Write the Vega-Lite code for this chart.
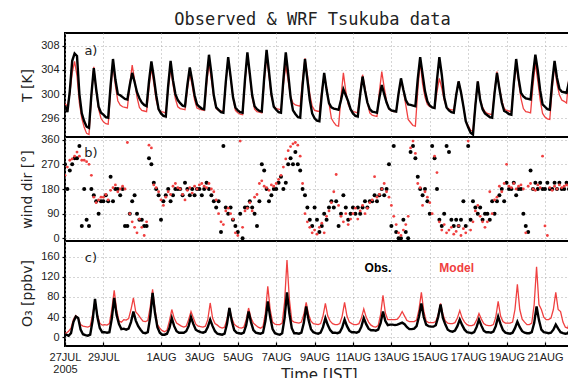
{
"$schema": "https://vega.github.io/schema/vega-lite/v6.json",
"background": "white",
"padding": {"left": 18, "top": 11, "right": 0, "bottom": 0},
"bounds": "flush",
"spacing": 0,
"title": {"text": "Observed & WRF Tsukuba data", "font": "DejaVu Sans Mono", "fontSize": 17, "fontWeight": "normal", "color": "#222", "anchor": "middle", "offset": 3, "dx": 16},
"config": {
  "view": {"stroke": "black", "strokeWidth": 2},
  "axis": {"labelFont": "Liberation Sans", "labelFontSize": 11, "labelColor": "#222", "titleFont": "DejaVu Sans", "titleFontWeight": "normal", "titleFontSize": 14, "titleColor": "#222", "gridColor": "#aaa", "gridDash": [1, 3], "gridWidth": 1, "domain": false, "ticks": true, "tickColor": "black", "tickWidth": 1.2, "tickSize": 3, "labelPadding": 3, "labelOverlap": false, "labelFlush": false}
},
"datasets": {
"T": [
{"d":0,"o":298.1,"m":298.4},{"d":0.125,"o":297.0,"m":298.0},{"d":0.25,"o":300.5,"m":300.0},{"d":0.375,"o":305.5,"m":303.5},{"d":0.5,"o":306.7,"m":305.4},{"d":0.625,"o":306.3,"m":303.0},{"d":0.75,"o":300.0,"m":298.5},{"d":0.875,"o":296.8,"m":296.0},
{"d":1,"o":295.5,"m":294.5},{"d":1.125,"o":294.6,"m":293.5},{"d":1.25,"o":294.4,"m":293.3},{"d":1.375,"o":299.9,"m":299.5},{"d":1.5,"o":304.3,"m":304.5},{"d":1.625,"o":300.8,"m":300.5},{"d":1.75,"o":297.9,"m":297.5},{"d":1.875,"o":296.9,"m":296.0},
{"d":2,"o":296.6,"m":295.4},{"d":2.125,"o":296.2,"m":295.1},{"d":2.25,"o":296.1,"m":295.0},{"d":2.375,"o":301.4,"m":300.4},{"d":2.5,"o":305.8,"m":304.9},{"d":2.625,"o":302.4,"m":301.4},{"d":2.75,"o":300.0,"m":298.9},{"d":2.875,"o":299.8,"m":298.2},
{"d":3,"o":299.5,"m":297.9},{"d":3.125,"o":299.2,"m":297.8},{"d":3.25,"o":299.1,"m":297.7},{"d":3.375,"o":301.5,"m":301.6},{"d":3.5,"o":303.5,"m":304.8},{"d":3.625,"o":302.0,"m":302.3},{"d":3.75,"o":300.3,"m":299.5},{"d":3.875,"o":299.3,"m":297.8},
{"d":4,"o":298.6,"m":297.3},{"d":4.125,"o":298.2,"m":297.2},{"d":4.25,"o":298.0,"m":297.1},{"d":4.375,"o":302.1,"m":301.1},{"d":4.5,"o":305.4,"m":304.3},{"d":4.625,"o":302.8,"m":301.8},{"d":4.75,"o":299.8,"m":299.0},{"d":4.875,"o":297.5,"m":297.4},
{"d":5,"o":296.8,"m":297.1},{"d":5.125,"o":296.4,"m":297.0},{"d":5.25,"o":296.3,"m":296.9},{"d":5.375,"o":301.4,"m":300.9},{"d":5.5,"o":305.5,"m":304.2},{"d":5.625,"o":302.3,"m":301.6},{"d":5.75,"o":300.0,"m":299.2},{"d":5.875,"o":299.0,"m":297.9},
{"d":6,"o":298.5,"m":297.6},{"d":6.125,"o":298.1,"m":297.5},{"d":6.25,"o":298.0,"m":297.4},{"d":6.375,"o":301.5,"m":300.8},{"d":6.5,"o":304.4,"m":303.5},{"d":6.625,"o":302.2,"m":301.4},{"d":6.75,"o":299.8,"m":299.0},{"d":6.875,"o":298.3,"m":297.7},
{"d":7,"o":297.9,"m":297.5},{"d":7.125,"o":297.6,"m":297.4},{"d":7.25,"o":297.5,"m":297.3},{"d":7.375,"o":302.5,"m":301.6},{"d":7.5,"o":306.5,"m":305.1},{"d":7.625,"o":303.4,"m":302.4},{"d":7.75,"o":299.8,"m":299.5},{"d":7.875,"o":297.8,"m":297.6},
{"d":8,"o":297.4,"m":297.3},{"d":8.125,"o":297.0,"m":297.2},{"d":8.25,"o":296.9,"m":297.1},{"d":8.375,"o":302.0,"m":301.9},{"d":8.5,"o":306.1,"m":305.9},{"d":8.625,"o":302.9,"m":302.8},{"d":8.75,"o":299.5,"m":299.5},{"d":8.875,"o":297.8,"m":297.3},
{"d":9,"o":297.3,"m":296.9},{"d":9.125,"o":297.0,"m":296.7},{"d":9.25,"o":296.9,"m":296.6},{"d":9.375,"o":302.4,"m":302.0},{"d":9.5,"o":306.9,"m":306.5},{"d":9.625,"o":303.4,"m":303.0},{"d":9.75,"o":299.8,"m":299.5},{"d":9.875,"o":298.0,"m":297.5},
{"d":10,"o":297.5,"m":297.1},{"d":10.125,"o":297.2,"m":297.0},{"d":10.25,"o":297.1,"m":296.9},{"d":10.375,"o":302.7,"m":302.0},{"d":10.5,"o":307.3,"m":306.2},{"d":10.625,"o":303.7,"m":303.0},{"d":10.75,"o":300.0,"m":299.6},{"d":10.875,"o":297.9,"m":298.0},
{"d":11,"o":297.4,"m":297.6},{"d":11.125,"o":297.0,"m":297.5},{"d":11.25,"o":296.9,"m":297.4},{"d":11.375,"o":302.4,"m":301.5},{"d":11.5,"o":306.9,"m":304.8},{"d":11.625,"o":303.4,"m":302.2},{"d":11.75,"o":299.5,"m":299.6},{"d":11.875,"o":297.3,"m":298.5},
{"d":12,"o":296.7,"m":298.2},{"d":12.125,"o":296.2,"m":298.1},{"d":12.25,"o":296.1,"m":298.0},{"d":12.375,"o":301.4,"m":302.3},{"d":12.5,"o":305.8,"m":305.9},{"d":12.625,"o":302.4,"m":303.2},{"d":12.75,"o":299.0,"m":300.0},{"d":12.875,"o":296.8,"m":298.0},
{"d":13,"o":296.0,"m":297.3},{"d":13.125,"o":295.6,"m":297.2},{"d":13.25,"o":295.5,"m":297.1},{"d":13.375,"o":299.9,"m":300.5},{"d":13.5,"o":303.5,"m":303.2},{"d":13.625,"o":300.7,"m":301.1},{"d":13.75,"o":298.5,"m":298.5},{"d":13.875,"o":297.8,"m":296.0},
{"d":14,"o":297.6,"m":295.3},{"d":14.125,"o":297.5,"m":294.8},{"d":14.25,"o":297.4,"m":294.7},{"d":14.375,"o":299.0,"m":299.5},{"d":14.5,"o":300.8,"m":303.5},{"d":14.625,"o":299.8,"m":300.5},{"d":14.75,"o":298.8,"m":298.3},{"d":14.875,"o":297.5,"m":297.4},
{"d":15,"o":296.8,"m":297.1},{"d":15.125,"o":296.4,"m":297.0},{"d":15.25,"o":296.3,"m":296.9},{"d":15.375,"o":299.9,"m":300.4},{"d":15.5,"o":302.9,"m":303.2},{"d":15.625,"o":300.6,"m":301.0},{"d":15.75,"o":298.6,"m":298.6},{"d":15.875,"o":297.5,"m":296.9},
{"d":16,"o":297.1,"m":296.5},{"d":16.125,"o":297.0,"m":296.4},{"d":16.25,"o":296.9,"m":296.3},{"d":16.375,"o":299.4,"m":300.4},{"d":16.5,"o":301.5,"m":303.7},{"d":16.625,"o":300.0,"m":301.1},{"d":16.75,"o":298.6,"m":298.8},{"d":16.875,"o":297.6,"m":297.5},
{"d":17,"o":297.3,"m":297.2},{"d":17.125,"o":297.2,"m":297.1},{"d":17.25,"o":297.1,"m":297.1},{"d":17.375,"o":300.1,"m":300.0},{"d":17.5,"o":302.6,"m":302.4},{"d":17.625,"o":300.7,"m":300.6},{"d":17.75,"o":299.0,"m":298.2},{"d":17.875,"o":298.3,"m":295.8},
{"d":18,"o":298.2,"m":295.3},{"d":18.125,"o":298.1,"m":294.8},{"d":18.25,"o":298.0,"m":294.7},{"d":18.375,"o":302.5,"m":300.6},{"d":18.5,"o":306.1,"m":305.4},{"d":18.625,"o":303.3,"m":301.7},{"d":18.75,"o":300.5,"m":299.5},{"d":18.875,"o":298.8,"m":298.3},
{"d":19,"o":298.1,"m":297.9},{"d":19.125,"o":297.8,"m":297.8},{"d":19.25,"o":297.7,"m":297.7},{"d":19.375,"o":302.3,"m":300.4},{"d":19.5,"o":306.1,"m":302.6},{"d":19.625,"o":303.2,"m":301.0},{"d":19.75,"o":299.5,"m":299.0},{"d":19.875,"o":297.8,"m":297.8},
{"d":20,"o":297.3,"m":297.5},{"d":20.125,"o":297.0,"m":297.4},{"d":20.25,"o":296.9,"m":297.4},{"d":20.375,"o":299.8,"m":300.0},{"d":20.5,"o":302.1,"m":302.1},{"d":20.625,"o":300.3,"m":300.4},{"d":20.75,"o":298.0,"m":298.0},{"d":20.875,"o":295.5,"m":295.5},
{"d":21,"o":294.5,"m":294.8},{"d":21.125,"o":293.6,"m":294.0},{"d":21.25,"o":293.3,"m":293.9},{"d":21.375,"o":298.1,"m":298.4},{"d":21.5,"o":302.1,"m":302.1},{"d":21.625,"o":299.0,"m":299.2},{"d":21.75,"o":297.5,"m":297.8},{"d":21.875,"o":296.8,"m":297.1},
{"d":22,"o":296.5,"m":296.8},{"d":22.125,"o":296.2,"m":296.7},{"d":22.25,"o":296.1,"m":296.6},{"d":22.375,"o":300.2,"m":300.5},{"d":22.5,"o":303.5,"m":303.7},{"d":22.625,"o":300.9,"m":301.2},{"d":22.75,"o":298.6,"m":299.0},{"d":22.875,"o":297.2,"m":297.6},
{"d":23,"o":297.0,"m":297.3},{"d":23.125,"o":296.7,"m":297.2},{"d":23.25,"o":296.6,"m":297.1},{"d":23.375,"o":301.7,"m":301.3},{"d":23.5,"o":305.8,"m":304.8},{"d":23.625,"o":302.6,"m":302.1},{"d":23.75,"o":300.2,"m":299.3},{"d":23.875,"o":299.6,"m":297.6},
{"d":24,"o":299.3,"m":297.1},{"d":24.125,"o":299.2,"m":297.0},{"d":24.25,"o":299.1,"m":296.9},{"d":24.375,"o":303.2,"m":301.4},{"d":24.5,"o":306.5,"m":305.1},{"d":24.625,"o":303.9,"m":302.2},{"d":24.75,"o":300.6,"m":299.0},{"d":24.875,"o":298.3,"m":296.8},
{"d":25,"o":297.9,"m":296.2},{"d":25.125,"o":297.5,"m":295.9},{"d":25.25,"o":297.4,"m":295.8},{"d":25.375,"o":301.9,"m":300.8},{"d":25.5,"o":305.5,"m":304.8},{"d":25.625,"o":302.7,"m":301.7},{"d":25.75,"o":300.9,"m":299.9},{"d":25.875,"o":300.4,"m":299.0},
{"d":26,"o":300.3,"m":298.8},{"d":26.125,"o":300.2,"m":298.5},{"d":26.25,"o":302.0,"m":303.0},{"d":26.375,"o":303.5,"m":304.0},{"d":26.5,"o":304.5,"m":304.5}
],
"O": [
{"d":0,"o":5,"m":8},
{"d":0.0625,"o":5,"m":8},{"d":0.1875,"o":3,"m":12},{"d":0.3125,"o":8,"m":18},{"d":0.4375,"o":30,"m":35},{"d":0.5625,"o":41,"m":43},{"d":0.6875,"o":38,"m":38},{"d":0.8125,"o":15,"m":25},{"d":0.9375,"o":6,"m":22},
{"d":1.0625,"o":4,"m":21},{"d":1.1875,"o":3,"m":20},{"d":1.3125,"o":5,"m":22},{"d":1.4375,"o":33,"m":45},{"d":1.5625,"o":76,"m":71},{"d":1.6875,"o":40,"m":45},{"d":1.8125,"o":18,"m":28},{"d":1.9375,"o":10,"m":24},
{"d":2.0625,"o":10,"m":25},{"d":2.1875,"o":9,"m":24},{"d":2.3125,"o":10,"m":27},{"d":2.4375,"o":37,"m":55},{"d":2.5625,"o":78,"m":93},{"d":2.6875,"o":44,"m":55},{"d":2.8125,"o":26,"m":32},{"d":2.9375,"o":16,"m":30},
{"d":3.0625,"o":17,"m":35},{"d":3.1875,"o":15,"m":34},{"d":3.3125,"o":17,"m":37},{"d":3.4375,"o":30,"m":55},{"d":3.5625,"o":51,"m":78},{"d":3.6875,"o":33,"m":50},{"d":3.8125,"o":22,"m":45},{"d":3.9375,"o":15,"m":38},
{"d":4.0625,"o":9,"m":32},{"d":4.1875,"o":8,"m":31},{"d":4.3125,"o":10,"m":33},{"d":4.4375,"o":40,"m":60},{"d":4.5625,"o":88,"m":95},{"d":4.6875,"o":48,"m":55},{"d":4.8125,"o":20,"m":25},{"d":4.9375,"o":9,"m":18},
{"d":5.0625,"o":5,"m":13},{"d":5.1875,"o":5,"m":11},{"d":5.3125,"o":7,"m":14},{"d":5.4375,"o":18,"m":32},{"d":5.5625,"o":38,"m":55},{"d":5.6875,"o":22,"m":38},{"d":5.8125,"o":12,"m":28},{"d":5.9375,"o":9,"m":25},
{"d":6.0625,"o":9,"m":22},{"d":6.1875,"o":9,"m":20},{"d":6.3125,"o":12,"m":22},{"d":6.4375,"o":22,"m":35},{"d":6.5625,"o":40,"m":51},{"d":6.6875,"o":26,"m":38},{"d":6.8125,"o":15,"m":26},{"d":6.9375,"o":12,"m":22},
{"d":7.0625,"o":10,"m":21},{"d":7.1875,"o":9,"m":20},{"d":7.3125,"o":11,"m":22},{"d":7.4375,"o":20,"m":35},{"d":7.5625,"o":35,"m":68},{"d":7.6875,"o":22,"m":38},{"d":7.8125,"o":12,"m":27},{"d":7.9375,"o":7,"m":24},
{"d":8.0625,"o":6,"m":20},{"d":8.1875,"o":5,"m":18},{"d":8.3125,"o":7,"m":20},{"d":8.4375,"o":26,"m":36},{"d":8.5625,"o":58,"m":58},{"d":8.6875,"o":32,"m":38},{"d":8.8125,"o":14,"m":26},{"d":8.9375,"o":9,"m":22},
{"d":9.0625,"o":8,"m":19},{"d":9.1875,"o":7,"m":18},{"d":9.3125,"o":9,"m":20},{"d":9.4375,"o":24,"m":35},{"d":9.5625,"o":51,"m":58},{"d":9.6875,"o":30,"m":38},{"d":9.8125,"o":14,"m":28},{"d":9.9375,"o":9,"m":24},
{"d":10.0625,"o":8,"m":20},{"d":10.1875,"o":7,"m":18},{"d":10.3125,"o":9,"m":21},{"d":10.4375,"o":32,"m":48},{"d":10.5625,"o":71,"m":101},{"d":10.6875,"o":40,"m":55},{"d":10.8125,"o":16,"m":30},{"d":10.9375,"o":8,"m":26},
{"d":11.0625,"o":6,"m":25},{"d":11.1875,"o":5,"m":25},{"d":11.3125,"o":8,"m":28},{"d":11.4375,"o":38,"m":70},{"d":11.5625,"o":89,"m":153},{"d":11.6875,"o":47,"m":75},{"d":11.8125,"o":18,"m":33},{"d":11.9375,"o":8,"m":30},
{"d":12.0625,"o":8,"m":29},{"d":12.1875,"o":7,"m":28},{"d":12.3125,"o":9,"m":30},{"d":12.4375,"o":28,"m":45},{"d":12.5625,"o":61,"m":69},{"d":12.6875,"o":34,"m":45},{"d":12.8125,"o":16,"m":32},{"d":12.9375,"o":10,"m":27},
{"d":13.0625,"o":8,"m":26},{"d":13.1875,"o":7,"m":25},{"d":13.3125,"o":9,"m":27},{"d":13.4375,"o":20,"m":42},{"d":13.5625,"o":38,"m":67},{"d":13.6875,"o":24,"m":42},{"d":13.8125,"o":14,"m":32},{"d":13.9375,"o":9,"m":27},
{"d":14.0625,"o":9,"m":25},{"d":14.1875,"o":8,"m":25},{"d":14.3125,"o":10,"m":27},{"d":14.4375,"o":19,"m":42},{"d":14.5625,"o":35,"m":69},{"d":14.6875,"o":22,"m":42},{"d":14.8125,"o":13,"m":30},{"d":14.9375,"o":10,"m":27},
{"d":15.0625,"o":10,"m":25},{"d":15.1875,"o":9,"m":25},{"d":15.3125,"o":11,"m":27},{"d":15.4375,"o":21,"m":38},{"d":15.5625,"o":38,"m":56},{"d":15.6875,"o":26,"m":40},{"d":15.8125,"o":17,"m":30},{"d":15.9375,"o":14,"m":24},
{"d":16.0625,"o":14,"m":21},{"d":16.1875,"o":13,"m":20},{"d":16.3125,"o":15,"m":23},{"d":16.4375,"o":28,"m":45},{"d":16.5625,"o":51,"m":83},{"d":16.6875,"o":32,"m":48},{"d":16.8125,"o":24,"m":35},{"d":16.9375,"o":25,"m":35},
{"d":17.0625,"o":25,"m":35},{"d":17.1875,"o":24,"m":35},{"d":17.3125,"o":25,"m":36},{"d":17.4375,"o":27,"m":42},{"d":17.5625,"o":29,"m":51},{"d":17.6875,"o":26,"m":42},{"d":17.8125,"o":20,"m":33},{"d":17.9375,"o":16,"m":31},
{"d":18.0625,"o":16,"m":31},{"d":18.1875,"o":17,"m":31},{"d":18.3125,"o":22,"m":34},{"d":18.4375,"o":41,"m":55},{"d":18.5625,"o":67,"m":89},{"d":18.6875,"o":40,"m":52},{"d":18.8125,"o":25,"m":32},{"d":18.9375,"o":22,"m":29},
{"d":19.0625,"o":21,"m":29},{"d":19.1875,"o":21,"m":29},{"d":19.3125,"o":24,"m":31},{"d":19.4375,"o":40,"m":45},{"d":19.5625,"o":65,"m":67},{"d":19.6875,"o":38,"m":45},{"d":19.8125,"o":25,"m":32},{"d":19.9375,"o":15,"m":28},
{"d":20.0625,"o":12,"m":27},{"d":20.1875,"o":11,"m":27},{"d":20.3125,"o":13,"m":29},{"d":20.4375,"o":22,"m":38},{"d":20.5625,"o":35,"m":53},{"d":20.6875,"o":24,"m":38},{"d":20.8125,"o":15,"m":30},{"d":20.9375,"o":10,"m":25},
{"d":21.0625,"o":9,"m":23},{"d":21.1875,"o":8,"m":23},{"d":21.3125,"o":10,"m":25},{"d":21.4375,"o":20,"m":34},{"d":21.5625,"o":35,"m":47},{"d":21.6875,"o":23,"m":36},{"d":21.8125,"o":13,"m":27},{"d":21.9375,"o":10,"m":24},
{"d":22.0625,"o":10,"m":23},{"d":22.1875,"o":9,"m":23},{"d":22.3125,"o":11,"m":25},{"d":22.4375,"o":22,"m":40},{"d":22.5625,"o":41,"m":71},{"d":22.6875,"o":26,"m":42},{"d":22.8125,"o":14,"m":31},{"d":22.9375,"o":9,"m":28},
{"d":23.0625,"o":8,"m":28},{"d":23.1875,"o":7,"m":28},{"d":23.3125,"o":9,"m":30},{"d":23.4375,"o":18,"m":55},{"d":23.5625,"o":31,"m":105},{"d":23.6875,"o":20,"m":55},{"d":23.8125,"o":12,"m":36},{"d":23.9375,"o":9,"m":30},
{"d":24.0625,"o":8,"m":25},{"d":24.1875,"o":8,"m":25},{"d":24.3125,"o":10,"m":28},{"d":24.4375,"o":28,"m":65},{"d":24.5625,"o":61,"m":140},{"d":24.6875,"o":34,"m":65},{"d":24.8125,"o":15,"m":55},{"d":24.9375,"o":10,"m":40},
{"d":25.0625,"o":9,"m":35},{"d":25.1875,"o":8,"m":35},{"d":25.3125,"o":9,"m":38},{"d":25.4375,"o":15,"m":55},{"d":25.5625,"o":25,"m":89},{"d":25.6875,"o":17,"m":55},{"d":25.8125,"o":10,"m":51},{"d":25.9375,"o":8,"m":30},
{"d":26.0625,"o":7,"m":20},{"d":26.1875,"o":8,"m":18},{"d":26.3125,"o":15,"m":38},{"d":26.4375,"o":25,"m":50}
],
"W": [
{"d":0,"o":270,"m":230},{"d":0.125,"o":180,"m":260},{"d":0.25,"o":247.5,"m":285},{"d":0.375,"o":270,"m":290},{"d":0.5,"o":292.5,"m":300},{"d":0.625,"o":292.5,"m":315},{"d":0.75,"o":337.5,"m":300},{"d":0.875,"o":45,"m":285},
{"d":1,"o":180,"m":285},{"d":1.125,"o":67.5,"m":280},{"d":1.25,"o":45,"m":270},{"d":1.375,"o":180,"m":230},{"d":1.5,"o":157.5,"m":150},{"d":1.625,"o":135,"m":130},{"d":1.75,"o":90,"m":140},{"d":1.875,"o":135,"m":150},
{"d":2,"o":135,"m":150},{"d":2.125,"o":157.5,"m":160},{"d":2.25,"o":135,"m":140},{"d":2.375,"o":225,"m":175},{"d":2.5,"o":135,"m":185},{"d":2.625,"o":180,"m":195},{"d":2.75,"o":180,"m":170},{"d":2.875,"o":157.5,"m":180},
{"d":3,"o":180,"m":190},{"d":3.125,"o":45,"m":180},{"d":3.25,"o":45,"m":350},{"d":3.375,"o":90,"m":90},{"d":3.5,"o":135,"m":60},{"d":3.625,"o":157.5,"m":40},{"d":3.75,"o":90,"m":20},{"d":3.875,"o":67.5,"m":70},
{"d":4,"o":67.5,"m":40},{"d":4.125,"o":45,"m":10},{"d":4.25,"o":45,"m":60},{"d":4.375,"o":292.5,"m":340},{"d":4.5,"o":270,"m":330},{"d":4.625,"o":202.5,"m":195},{"d":4.75,"o":180,"m":185},{"d":4.875,"o":157.5,"m":170},
{"d":5,"o":67.5,"m":140},{"d":5.125,"o":135,"m":120},{"d":5.25,"o":157.5,"m":150},{"d":5.375,"o":180,"m":170},{"d":5.5,"o":135,"m":160},{"d":5.625,"o":157.5,"m":190},{"d":5.75,"o":180,"m":200},{"d":5.875,"o":180,"m":185},
{"d":6,"o":180,"m":180},{"d":6.125,"o":157.5,"m":160},{"d":6.25,"o":202.5,"m":140},{"d":6.375,"o":180,"m":175},{"d":6.5,"o":157.5,"m":185},{"d":6.625,"o":180,"m":165},{"d":6.75,"o":157.5,"m":190},{"d":6.875,"o":180,"m":180},
{"d":7,"o":180,"m":195},{"d":7.125,"o":157.5,"m":200},{"d":7.25,"o":180,"m":190},{"d":7.375,"o":202.5,"m":185},{"d":7.5,"o":180,"m":200},{"d":7.625,"o":157.5,"m":180},{"d":7.75,"o":135,"m":170},{"d":7.875,"o":112.5,"m":140},
{"d":8,"o":135,"m":90},{"d":8.125,"o":22.5,"m":60},{"d":8.25,"o":337.5,"m":50},{"d":8.375,"o":112.5,"m":100},{"d":8.5,"o":90,"m":110},{"d":8.625,"o":112.5,"m":90},{"d":8.75,"o":67.5,"m":70},{"d":8.875,"o":45,"m":20},
{"d":9,"o":22.5,"m":10},{"d":9.125,"o":90,"m":355},{"d":9.25,"o":0,"m":40},{"d":9.375,"o":112.5,"m":100},{"d":9.5,"o":112.5,"m":110},{"d":9.625,"o":135,"m":130},{"d":9.75,"o":112.5,"m":100},{"d":9.875,"o":90,"m":150},
{"d":10,"o":45,"m":160},{"d":10.125,"o":135,"m":200},{"d":10.25,"o":270,"m":210},{"d":10.375,"o":247.5,"m":190},{"d":10.5,"o":180,"m":185},{"d":10.625,"o":135,"m":175},{"d":10.75,"o":157.5,"m":195},{"d":10.875,"o":180,"m":190},
{"d":11,"o":180,"m":200},{"d":11.125,"o":202.5,"m":215},{"d":11.25,"o":225,"m":230},{"d":11.375,"o":180,"m":260},{"d":11.5,"o":202.5,"m":290},{"d":11.625,"o":270,"m":320},{"d":11.75,"o":292.5,"m":335},{"d":11.875,"o":270,"m":345},
{"d":12,"o":315,"m":350},{"d":12.125,"o":270,"m":340},{"d":12.25,"o":247.5,"m":300},{"d":12.375,"o":180,"m":200},{"d":12.5,"o":157.5,"m":90},{"d":12.625,"o":112.5,"m":60},{"d":12.75,"o":67.5,"m":40},{"d":12.875,"o":45,"m":20},
{"d":13,"o":112.5,"m":30},{"d":13.125,"o":67.5,"m":15},{"d":13.25,"o":22.5,"m":40},{"d":13.375,"o":45,"m":55},{"d":13.5,"o":90,"m":20},{"d":13.625,"o":67.5,"m":80},{"d":13.75,"o":112.5,"m":100},{"d":13.875,"o":135,"m":130},
{"d":14,"o":112.5,"m":170},{"d":14.125,"o":135,"m":233},{"d":14.25,"o":45,"m":120},{"d":14.375,"o":90,"m":80},{"d":14.5,"o":157.5,"m":60},{"d":14.625,"o":112.5,"m":90},{"d":14.75,"o":67.5,"m":50},{"d":14.875,"o":90,"m":70},
{"d":15,"o":112.5,"m":90},{"d":15.125,"o":90,"m":110},{"d":15.25,"o":112.5,"m":70},{"d":15.375,"o":90,"m":100},{"d":15.5,"o":112.5,"m":120},{"d":15.625,"o":135,"m":90},{"d":15.75,"o":112.5,"m":110},{"d":15.875,"o":135,"m":130},
{"d":16,"o":135,"m":140},{"d":16.125,"o":157.5,"m":225},{"d":16.25,"o":135,"m":150},{"d":16.375,"o":157.5,"m":160},{"d":16.5,"o":180,"m":180},{"d":16.625,"o":157.5,"m":200},{"d":16.75,"o":180,"m":170},{"d":16.875,"o":270,"m":150},
{"d":17,"o":45,"m":120},{"d":17.125,"o":337.5,"m":80},{"d":17.25,"o":22.5,"m":50},{"d":17.375,"o":0,"m":20},{"d":17.5,"o":0,"m":10},{"d":17.625,"o":67.5,"m":30},{"d":17.75,"o":22.5,"m":50},{"d":17.875,"o":0,"m":80},
{"d":18,"o":315,"m":330},{"d":18.125,"o":337.5,"m":355},{"d":18.25,"o":292.5,"m":310},{"d":18.375,"o":225,"m":200},{"d":18.5,"o":180,"m":185},{"d":18.625,"o":157.5,"m":120},{"d":18.75,"o":180,"m":170},{"d":18.875,"o":135,"m":150},
{"d":19,"o":90,"m":130},{"d":19.125,"o":337.5,"m":90},{"d":19.25,"o":292.5,"m":300},{"d":19.375,"o":180,"m":240},{"d":19.5,"o":67.5,"m":60},{"d":19.625,"o":45,"m":30},{"d":19.75,"o":90,"m":50},{"d":19.875,"o":337.5,"m":20},
{"d":20,"o":315,"m":30},{"d":20.125,"o":67.5,"m":40},{"d":20.25,"o":45,"m":15},{"d":20.375,"o":67.5,"m":25},{"d":20.5,"o":45,"m":45},{"d":20.625,"o":67.5,"m":10},{"d":20.75,"o":135,"m":35},{"d":20.875,"o":45,"m":20},
{"d":21,"o":337.5,"m":355},{"d":21.125,"o":67.5,"m":30},{"d":21.25,"o":135,"m":60},{"d":21.375,"o":112.5,"m":100},{"d":21.5,"o":90,"m":120},{"d":21.625,"o":112.5,"m":80},{"d":21.75,"o":67.5,"m":60},{"d":21.875,"o":90,"m":40},
{"d":22,"o":90,"m":60},{"d":22.125,"o":67.5,"m":170},{"d":22.25,"o":135,"m":90},{"d":22.375,"o":90,"m":140},{"d":22.5,"o":135,"m":150},{"d":22.625,"o":157.5,"m":190},{"d":22.75,"o":180,"m":170},{"d":22.875,"o":135,"m":200},
{"d":23,"o":202.5,"m":270},{"d":23.125,"o":180,"m":190},{"d":23.25,"o":180,"m":185},{"d":23.375,"o":202.5,"m":200},{"d":23.5,"o":157.5,"m":180},{"d":23.625,"o":180,"m":190},{"d":23.75,"o":180,"m":195},{"d":23.875,"o":90,"m":180},
{"d":24,"o":45,"m":20},{"d":24.125,"o":22.5,"m":190},{"d":24.25,"o":247.5,"m":200},{"d":24.375,"o":180,"m":180},{"d":24.5,"o":202.5,"m":175},{"d":24.625,"o":180,"m":195},{"d":24.75,"o":202.5,"m":185},{"d":24.875,"o":180,"m":300},
{"d":25,"o":180,"m":45},{"d":25.125,"o":202.5,"m":10},{"d":25.25,"o":180,"m":185},{"d":25.375,"o":180,"m":175},{"d":25.5,"o":202.5,"m":190},{"d":25.625,"o":180,"m":180},{"d":25.75,"o":202.5,"m":195},{"d":25.875,"o":180,"m":185},
{"d":26,"o":180,"m":190},{"d":26.125,"o":202.5,"m":195},{"d":26.25,"o":180,"m":190},{"d":26.375,"o":180,"m":200}
]
},
"vconcat": [
{
  "width": 508, "height": 104,
  "layer": [
    {"data": {"name": "T"}, "mark": {"type": "line", "color": "#f04040", "strokeWidth": 1.3, "clip": true},
     "encoding": {
       "x": {"field": "d", "type": "quantitative", "scale": {"domain": [0, 26.46], "nice": false, "zero": false}, "axis": {"values": [0,2,5,7,9,11,13,15,17,19,21,23,25], "labels": false, "ticks": false, "title": null, "grid": true}},
       "y": {"field": "m", "type": "quantitative", "scale": {"domain": [292.9, 310.1], "nice": false, "zero": false}, "axis": {"values": [296,300,304,308], "labelOverlap": false, "title": "T [K]", "titleX": -31, "titleY": 52, "grid": true}}}},
    {"data": {"name": "T"}, "mark": {"type": "line", "color": "black", "strokeWidth": 2.4, "clip": true},
     "encoding": {
       "x": {"field": "d", "type": "quantitative", "axis": {"values": [0,2,5,7,9,11,13,15,17,19,21,23,25], "labels": false, "ticks": false, "title": null, "grid": true}},
       "y": {"field": "o", "type": "quantitative", "axis": {"values": [296,300,304,308], "labelOverlap": false, "title": "T [K]", "titleX": -31, "titleY": 52, "grid": true}}}},
    {"data": {"values": [{}]}, "mark": {"type": "text", "text": "a)", "font": "DejaVu Sans", "fontSize": 13, "color": "#222"},
     "encoding": {
       "x": {"datum": 1.35, "axis": {"values": [0,2,5,7,9,11,13,15,17,19,21,23,25], "labels": false, "ticks": false, "title": null, "grid": true}},
       "y": {"datum": 307.1, "axis": {"values": [296,300,304,308], "labelOverlap": false, "title": "T [K]", "titleX": -31, "titleY": 52, "grid": true}}}}
  ]
},
{
  "width": 508, "height": 104,
  "layer": [
    {"data": {"name": "W"}, "mark": {"type": "circle", "color": "black", "size": 16, "opacity": 1, "clip": true},
     "encoding": {
       "x": {"field": "d", "type": "quantitative", "scale": {"domain": [0, 26.46], "nice": false, "zero": false}, "axis": {"values": [0,2,5,7,9,11,13,15,17,19,21,23,25], "labels": false, "ticks": false, "title": null, "grid": true}},
       "y": {"field": "o", "type": "quantitative", "scale": {"domain": [-10, 370], "nice": false, "zero": false}, "axis": {"values": [0,90,180,270,360], "labelOverlap": false, "title": "wind dir [°]", "titleX": -31, "titleY": 52, "grid": true}}}},
    {"data": {"name": "W"}, "mark": {"type": "circle", "color": "#f04040", "size": 8, "opacity": 1, "clip": true},
     "encoding": {"x": {"field": "d", "type": "quantitative", "axis": {"values": [0,2,5,7,9,11,13,15,17,19,21,23,25], "labels": false, "ticks": false, "title": null, "grid": true}},
       "y": {"field": "m", "type": "quantitative", "axis": {"values": [0,90,180,270,360], "labelOverlap": false, "title": "wind dir [°]", "titleX": -31, "titleY": 52, "grid": true}}}},
    {"data": {"values": [{}]}, "mark": {"type": "text", "text": "b)", "font": "DejaVu Sans", "fontSize": 13, "color": "#222"},
     "encoding": {"x": {"datum": 1.35, "axis": {"values": [0,2,5,7,9,11,13,15,17,19,21,23,25], "labels": false, "ticks": false, "title": null, "grid": true}},
       "y": {"datum": 311, "axis": {"values": [0,90,180,270,360], "labelOverlap": false, "title": "wind dir [°]", "titleX": -31, "titleY": 52, "grid": true}}}}
  ]
},
{
  "width": 508, "height": 105,
  "layer": [
    {"data": {"name": "O"}, "mark": {"type": "line", "color": "#f04040", "strokeWidth": 1.3, "clip": true},
     "encoding": {
       "x": {"field": "d", "type": "quantitative", "scale": {"domain": [0, 26.46], "nice": false, "zero": false},
             "axis": {"values": [0,2,5,7,9,11,13,15,17,19,21,23,25], "labelExpr": "datum.value == 0 ? ['27JUL', '2005'] : datum.value < 5 ? (27 + datum.value) + 'JUL' : (datum.value - 4) + 'AUG'", "labelFlush": false, "labelOverlap": false, "tickSize": -4, "labelPadding": 9, "labelLineHeight": 12, "title": "Time [JST]", "titleFontSize": 15, "titleY": 21, "titleBaseline": "top", "grid": true}},
       "y": {"field": "m", "type": "quantitative", "scale": {"domain": [-17.4, 191], "nice": false, "zero": false}, "axis": {"values": [0,40,80,120,160], "labelOverlap": false, "title": "O₃ [ppbv]", "titleX": -31, "titleY": 52, "grid": true}}}},
    {"data": {"name": "O"}, "mark": {"type": "line", "color": "black", "strokeWidth": 2.4, "clip": true},
     "encoding": {
       "x": {"field": "d", "type": "quantitative", "axis": {"values": [0,2,5,7,9,11,13,15,17,19,21,23,25], "labelExpr": "datum.value == 0 ? ['27JUL', '2005'] : datum.value < 5 ? (27 + datum.value) + 'JUL' : (datum.value - 4) + 'AUG'", "labelFlush": false, "labelOverlap": false, "tickSize": -4, "labelPadding": 9, "labelLineHeight": 12, "title": "Time [JST]", "titleFontSize": 15, "titleY": 21, "titleBaseline": "top", "grid": true}},
       "y": {"field": "o", "type": "quantitative", "axis": {"values": [0,40,80,120,160], "labelOverlap": false, "title": "O₃ [ppbv]", "titleX": -31, "titleY": 52, "grid": true}}}},
    {"data": {"values": [{}]}, "mark": {"type": "text", "text": "c)", "font": "DejaVu Sans", "fontSize": 13, "color": "#222"},
     "encoding": {
       "x": {"datum": 1.35, "axis": {"values": [0,2,5,7,9,11,13,15,17,19,21,23,25], "labelExpr": "datum.value == 0 ? ['27JUL', '2005'] : datum.value < 5 ? (27 + datum.value) + 'JUL' : (datum.value - 4) + 'AUG'", "labelFlush": false, "labelOverlap": false, "tickSize": -4, "labelPadding": 9, "labelLineHeight": 12, "title": "Time [JST]", "titleFontSize": 15, "titleY": 21, "titleBaseline": "top", "grid": true}},
       "y": {"datum": 157, "axis": {"values": [0,40,80,120,160], "labelOverlap": false, "title": "O₃ [ppbv]", "titleX": -31, "titleY": 52, "grid": true}}}},
    {"data": {"values": [{"t": "Obs.", "x": 16.3, "y": 137, "c": "black"}, {"t": "Model", "x": 20.4, "y": 137, "c": "#f04040"}]},
     "mark": {"type": "text", "font": "Liberation Sans", "fontSize": 12, "fontWeight": "bold"},
     "encoding": {
       "text": {"field": "t"},
       "color": {"field": "c", "type": "nominal", "scale": null},
       "x": {"field": "x", "type": "quantitative", "axis": {"values": [0,2,5,7,9,11,13,15,17,19,21,23,25], "labelExpr": "datum.value == 0 ? ['27JUL', '2005'] : datum.value < 5 ? (27 + datum.value) + 'JUL' : (datum.value - 4) + 'AUG'", "labelFlush": false, "labelOverlap": false, "tickSize": -4, "labelPadding": 9, "labelLineHeight": 12, "title": "Time [JST]", "titleFontSize": 15, "titleY": 21, "titleBaseline": "top", "grid": true}},
       "y": {"field": "y", "type": "quantitative", "axis": {"values": [0,40,80,120,160], "labelOverlap": false, "title": "O₃ [ppbv]", "titleX": -31, "titleY": 52, "grid": true}}}}
  ]
}
]
}
